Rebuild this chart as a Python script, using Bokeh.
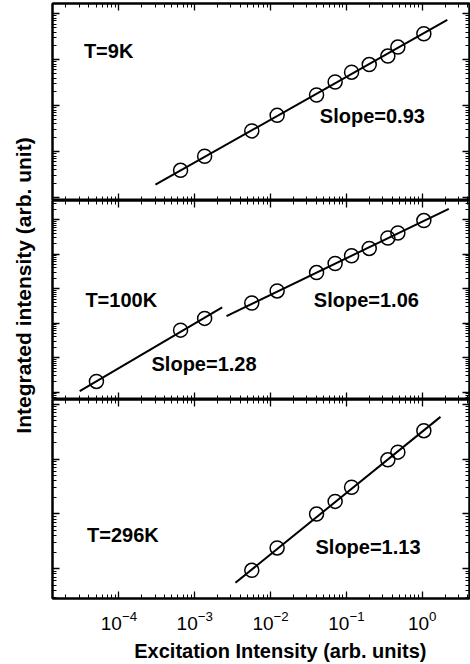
import math
from bokeh.plotting import figure
from bokeh.layouts import column, row
from bokeh.models import LogAxis, LogTicker, Range1d, CustomJSTickFormatter, LogTickFormatter
from bokeh.core.properties import value
from bokeh.embed import file_html
from bokeh.resources import INLINE

FONT = "Liberation Sans"

# ---------------- data ----------------
# T = 9 K
x_9k = [6.5e-4, 1.35e-3, 5.65e-3, 1.22e-2, 4.04e-2, 7.1e-2, 0.117, 0.2, 0.352, 0.477, 1.05]
y_9k = [3.90, 7.89, 28.2, 61.4, 170.6, 328, 536, 785, 1200, 1888, 3690]
fit_x_9k = [3.03e-4, 2.14]
fit_y_9k = [1.90, 7362]

# T = 100 K (two regimes)
x_100k_low = [5.05e-5, 6.5e-4, 1.35e-3]
y_100k_low = [2.05, 63.0, 138]
x_100k_high = [5.65e-3, 1.22e-2, 4.04e-2, 7.1e-2, 0.117, 0.2, 0.352, 0.477, 1.05]
y_100k_high = [385, 863, 2944, 5395, 9036, 14757, 29648, 41495, 94842]
fit_x_100k_low = [3.04e-5, 2.30e-3]
fit_y_100k_low = [1.07, 289]
fit_x_100k_high = [2.62e-3, 2.24]
fit_y_100k_high = [161, 207970]

# T = 296 K
x_296k = [5.65e-3, 1.22e-2, 4.04e-2, 7.1e-2, 0.117, 0.352, 0.477, 1.05]
y_296k = [0.931, 2.39, 9.91, 16.9, 30.6, 97.0, 134, 330]
fit_x_296k = [3.44e-3, 1.74]
fit_y_296k = [0.553, 590]

x_title = "Excitation Intensity (arb. units)"
y_title = "Integrated intensity (arb. unit)"

X_RANGE = (1.33e-5, 4.2)


def style_axis(ax, labels=False):
    ax.ticker = LogTicker(num_minor_ticks=10)
    ax.major_tick_in = 7
    ax.major_tick_out = 0
    ax.minor_tick_in = 4
    ax.minor_tick_out = 0
    ax.axis_line_color = "black"
    ax.axis_line_width = 2
    ax.major_tick_line_color = "black"
    ax.minor_tick_line_color = "black"
    ax.major_tick_line_width = 1.3
    ax.minor_tick_line_width = 1
    if labels:
        ax.formatter = LogTickFormatter()
        ax.major_label_text_font = FONT
        ax.major_label_text_font_size = "19px"
        ax.major_label_text_color = "black"
        ax.major_label_standoff = 12
    else:
        ax.formatter = CustomJSTickFormatter(code="return '';")
        ax.major_label_text_font_size = "1px"
        ax.major_label_text_color = None
        ax.major_label_standoff = 0


def make_panel(height, y_range, border_top, border_bottom, bottom_labels=False):
    p = figure(width=430, height=height, x_axis_type="log", y_axis_type="log",
               x_range=Range1d(*X_RANGE), y_range=Range1d(*y_range),
               output_backend="svg", toolbar_location=None,
               min_border_left=12, min_border_right=1,
               min_border_top=border_top, min_border_bottom=border_bottom)
    p.add_layout(LogAxis(), "above")
    p.add_layout(LogAxis(), "right")
    for ax in p.xaxis:
        style_axis(ax)
    for ax in p.yaxis:
        style_axis(ax)
    if bottom_labels:
        style_axis(p.below[0], labels=True)
    p.grid.visible = False
    p.outline_line_color = "black"
    p.outline_line_width = 2
    p.background_fill_color = "white"
    p.border_fill_color = "white"
    return p


def add_series(p, x, y):
    p.scatter(x, y, marker="circle", size=14, fill_color=None,
              line_color="black", line_width=1.5)


def add_fit(p, x, y):
    p.line(x, y, line_color="black", line_width=2)


def add_text(p, x, y, t):
    p.text(x=[x], y=[y], text=[t], text_font=value(FONT), text_font_style="bold",
           text_font_size="20px", text_color="black",
           text_align="left", text_baseline="middle")


p1 = make_panel(200, (0.859, 16788), 3, 0)
add_fit(p1, fit_x_9k, fit_y_9k)
add_series(p1, x_9k, y_9k)
add_text(p1, 3.45e-5, 1567, "T=9K")
add_text(p1, 0.0446, 59.2, "Slope=0.93")

p2 = make_panel(199, (0.612, 363000), 0, 0)
add_fit(p2, fit_x_100k_low, fit_y_100k_low)
add_fit(p2, fit_x_100k_high, fit_y_100k_high)
add_series(p2, x_100k_low, y_100k_low)
add_series(p2, x_100k_high, y_100k_high)
add_text(p2, 3.61e-5, 471, "T=100K")
add_text(p2, 0.0372, 471, "Slope=1.06")
add_text(p2, 2.69e-4, 6.73, "Slope=1.28")

p3 = make_panel(237, (0.285, 1225), 0, 38, bottom_labels=True)
add_fit(p3, fit_x_296k, fit_y_296k)
add_series(p3, x_296k, y_296k)
add_text(p3, 3.8e-5, 4.08, "T=296K")
add_text(p3, 0.0391, 2.49, "Slope=1.13")

# strip under the panels carrying the x-axis title
xt = figure(width=430, height=28, x_range=Range1d(0, 430), y_range=Range1d(0, 28),
            output_backend="svg", toolbar_location=None,
            x_axis_location=None, y_axis_location=None,
            min_border=0, outline_line_color=None)
xt.grid.visible = False
xt.text(x=[235], y=[14], text=[x_title],
        text_font=value(FONT), text_font_style="bold", text_font_size="20px",
        text_color="black", text_align="center", text_baseline="middle")

# left strip carrying the shared y-axis title
lab = figure(width=40, height=664, x_range=Range1d(0, 40), y_range=Range1d(0, 664),
             output_backend="svg", toolbar_location=None,
             x_axis_location=None, y_axis_location=None,
             min_border=0, outline_line_color=None)
lab.grid.visible = False
lab.text(x=[23], y=[664 - 285], text=[y_title], angle=math.pi / 2,
         text_font=value(FONT), text_font_style="bold", text_font_size="21px",
         text_color="black", text_align="center", text_baseline="middle")

layout = row(lab, column(p1, p2, p3, xt, spacing=0), spacing=0)

open("out.html", "w").write(file_html(layout, INLINE))
